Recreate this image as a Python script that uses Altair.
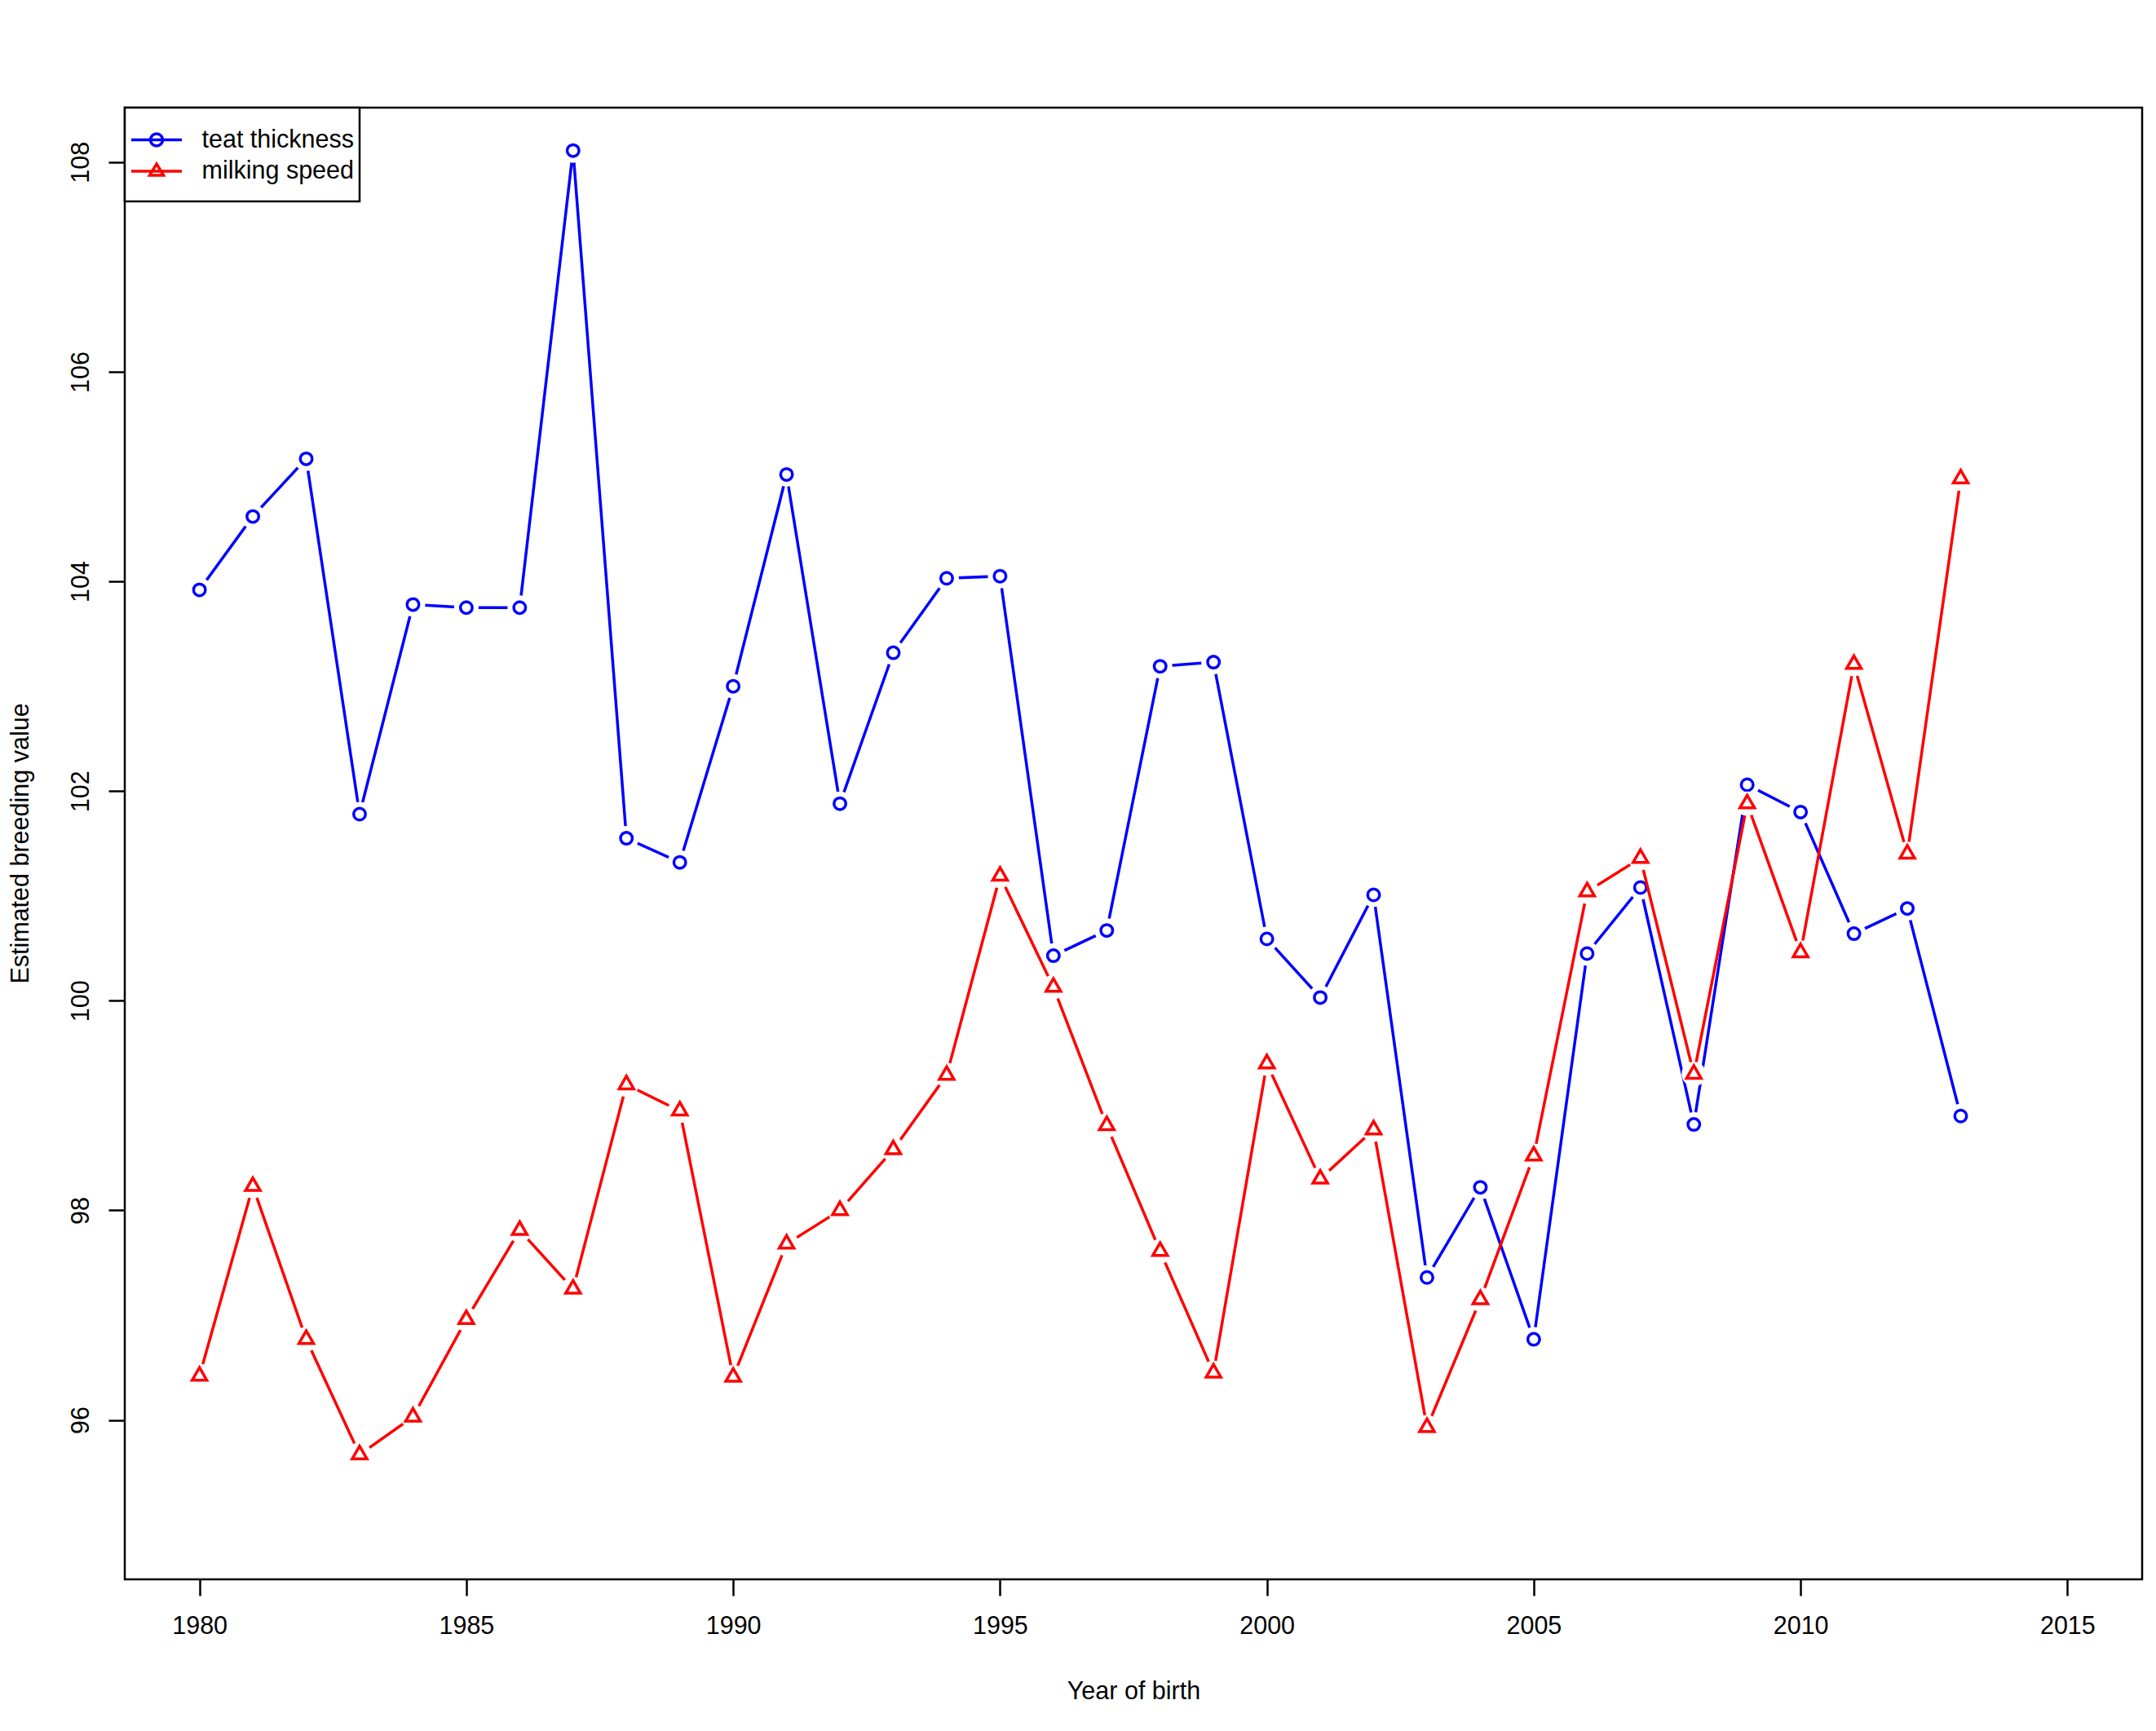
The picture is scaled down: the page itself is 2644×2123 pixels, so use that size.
import altair as alt
import pandas as pd

years = [1980, 1981, 1982, 1983, 1984, 1985, 1986, 1987, 1988, 1989,
         1990, 1991, 1992, 1993, 1994, 1995, 1996, 1997, 1998, 1999,
         2000, 2001, 2002, 2003, 2004, 2005, 2006, 2007, 2008, 2009,
         2010, 2011, 2012, 2013]
teat_thickness = [103.92, 104.62, 105.17, 101.78, 103.78, 103.75, 103.75, 108.11, 101.55, 101.32,
                  103.00, 105.02, 101.88, 103.32, 104.03, 104.05, 100.43, 100.67, 103.19, 103.23,
                  100.59, 100.03, 101.01, 97.36, 98.22, 96.77, 100.45, 101.08, 98.82, 102.06,
                  101.80, 100.64, 100.88, 98.90]
milking_speed = [96.42, 98.23, 96.77, 95.67, 96.03, 96.96, 97.81, 97.25, 99.20, 98.95,
                 96.41, 97.68, 98.00, 98.58, 99.29, 101.19, 100.13, 98.81, 97.61, 96.45,
                 99.40, 98.30, 98.77, 95.93, 97.15, 98.52, 101.04, 101.36, 99.30, 101.88,
                 100.46, 103.21, 101.40, 104.98]
series_names = ["teat thickness", "milking speed"]
series_colors = ["#0000ff", "#ff0000"]
x_ticks = [1980, 1985, 1990, 1995, 2000, 2005, 2010, 2015]
y_ticks = [96, 98, 100, 102, 104, 106, 108]

n = len(years)
df = pd.DataFrame({
    "year": years + years,
    "value": teat_thickness + milking_speed,
    "series": [series_names[0]] * n + [series_names[1]] * n,
})

FONT = "Liberation Sans"
FS = 30.5

x_enc = alt.X(
    "year:Q",
    scale=alt.Scale(domain=[1978.6, 2016.4], nice=False, zero=False),
    axis=alt.Axis(
        values=x_ticks, format="d", title="Year of birth",
        grid=False, domain=False, ticks=True, tickSize=20, tickWidth=2.5, tickColor="black",
        labelFont=FONT, labelFontSize=FS, labelColor="black", labelPadding=22,
        labelBaseline="top", labelFlush=False,
        titleFont=FONT, titleFontSize=FS, titleFontWeight="normal", titleColor="black",
        titleBaseline="alphabetic", titleY=146,
    ),
)
y_enc = alt.Y(
    "value:Q",
    scale=alt.Scale(domain=[94.48, 108.52], nice=False, zero=False),
    axis=alt.Axis(
        values=y_ticks, title="Estimated breeding value",
        grid=False, domain=False, ticks=True, tickSize=20, tickWidth=2.5, tickColor="black",
        labelFont=FONT, labelFontSize=FS, labelColor="black", labelPadding=25,
        labelAngle=270, labelAlign="center", labelBaseline="alphabetic", labelFlush=False,
        titleFont=FONT, titleFontSize=FS, titleFontWeight="normal", titleColor="black",
        titleAngle=270, titleAlign="center", titleBaseline="alphabetic",
        titleX=-119, titleY=902,
    ),
)

# R-style triangle (pch 2), centred on its centroid
r_triangle = "M 0 -1.1547 L 1 0.5774 L -1 0.5774 Z"


def series_layers(name, color, shape, size):
    base = alt.Chart(df).transform_filter(alt.datum.series == name)
    line = base.mark_line(color=color, strokeWidth=3.5).encode(x=x_enc, y=y_enc)
    halo = base.mark_point(shape="circle", filled=True, color="white", size=900,
                           opacity=1, strokeWidth=0).encode(x=x_enc, y=y_enc)
    pts = base.mark_point(shape=shape, filled=False, color=color, size=size,
                          strokeWidth=3.5, opacity=1).encode(x=x_enc, y=y_enc)
    return [line, halo, pts]


# legend keys: line segment + marker (scale 13.5 px per unit at size 729);
# the trailing move on the last key only widens the legend frame downwards
legend_circle = ("M -2.3 0 L 2.3 0 M 0.556 0 A 0.556 0.556 0 1 1 -0.556 0 "
                 "A 0.556 0.556 0 1 1 0.556 0 Z")
legend_tri = "M -2.3 0 L 2.3 0 M 0 -0.667 L 0.63 0.37 L -0.63 0.37 Z M 0 1.7"

label_expr = "datum.label + '\u00a0\u00a0'"

legend_layer = alt.Chart(df).mark_point(
    filled=False, size=729, strokeWidth=3.5, opacity=0
).encode(
    x=x_enc, y=y_enc,
    color=alt.Color("series:N",
                    scale=alt.Scale(domain=series_names, range=series_colors),
                    legend=alt.Legend(title=" ", labelExpr=label_expr)),
    shape=alt.Shape("series:N",
                    scale=alt.Scale(domain=series_names, range=[legend_circle, legend_tri]),
                    legend=alt.Legend(title=" ", labelExpr=label_expr)),
)

layers = ([legend_layer]
          + series_layers(series_names[0], series_colors[0], "circle", 210)
          + series_layers(series_names[1], series_colors[1], r_triangle, 324))

chart = alt.layer(*layers).properties(
    width=2474, height=1805,
    autosize=alt.AutoSizeParams(type="none"),
    padding={"left": 145, "top": 124, "right": 5, "bottom": 180},
).configure(
    background="white",
).configure_view(
    stroke="black", strokeWidth=2.5, fill="white",
).configure_legend(
    orient="top-left", offset=0, padding=7, strokeColor="black", strokeWidth=2.5,
    fillColor="white", labelFont=FONT, labelFontSize=FS, labelColor="black",
    labelOffset=40, labelLimit=0, symbolOffset=16.5,
    symbolSize=729, symbolStrokeWidth=3.5, symbolOpacity=1,
    rowPadding=6.5, cornerRadius=0,
    titleFontSize=2, titlePadding=15, titleFont=FONT,
)

chart.save("out.html", embed_options={"renderer": "svg", "actions": False})
